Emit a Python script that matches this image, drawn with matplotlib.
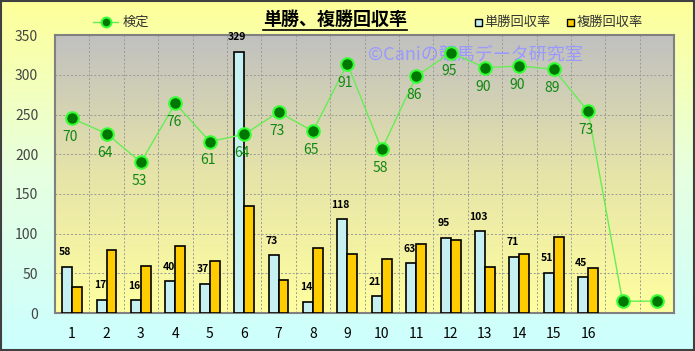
import matplotlib

matplotlib.use("Agg")

import matplotlib.pyplot as plt
import numpy as np
from matplotlib.colors import LinearSegmentedColormap
from matplotlib.lines import Line2D
from matplotlib.patches import Rectangle

plt.rcParams["font.family"] = ["Noto Sans CJK JP", "DejaVu Sans"]

categories = [str(i) for i in range(1, 17)] + ["", ""]
win_return = [58, 17, 16, 40, 37, 329, 73, 14, 118, 21, 63, 95, 103, 71, 51, 45]
place_return = [33, 79, 59, 85, 65, 135, 42, 82, 74, 68, 87, 92, 58, 75, 96, 57]
test_pos = [245, 226, 190, 264, 216, 225, 253, 229, 314, 206, 298, 328, 309, 311, 307, 254, 15, 15]
test_labels = ["70", "64", "53", "76", "61", "64", "73", "65", "91", "58", "86", "95", "90", "90", "89", "73", "", ""]

fig = plt.figure(figsize=(6.95, 3.51), dpi=100)

# figure background gradient (yellow top -> light cyan bottom)
bg = fig.add_axes([0, 0, 1, 1], zorder=-10)
bg_cmap = LinearSegmentedColormap.from_list("bg", ["#CCFFFF", "#E6FFE0", "#FFFF99"])
bg.imshow(np.linspace(0, 1, 256).reshape(-1, 1), aspect="auto", cmap=bg_cmap,
          origin="lower", extent=[0, 1, 0, 1])
bg.add_patch(Rectangle((0.001, 0.002), 0.997, 0.995, fill=False, edgecolor="#404040", lw=1.5,
                       transform=bg.transAxes))
bg.axis("off")

ax = fig.add_axes([0.079, 0.108, 0.891, 0.792])
x = np.arange(1, len(categories) + 1)
nx = len(win_return)

plot_cmap = LinearSegmentedColormap.from_list("plot", ["#FFFFA0", "#E6E4A8", "#C0C0C0"])
ax.imshow(np.linspace(0, 1, 256).reshape(-1, 1), aspect="auto", cmap=plot_cmap,
          origin="lower", extent=[0.5, 18.5, 0, 350], zorder=0)

w = 0.29
ax.bar(x[:nx] - w / 2, win_return, w, color="#C6F0F2", edgecolor="black", lw=1.2, zorder=3,
       label="単勝回収率")
ax.bar(x[:nx] + w / 2, place_return, w, color="#FFCC00", edgecolor="black", lw=1.2, zorder=3,
       label="複勝回収率")
for xi, v in zip(x[:nx], win_return):
    ax.text(xi - w / 2 - 0.05, v + 12, str(v), ha="center", va="bottom", fontsize=7.5,
            fontweight="bold", color="black", zorder=5)

# watermark sits under the line markers
ax.text(0.506, 0.931, "©Caniの競馬データ研究室", transform=ax.transAxes, fontsize=13,
        color="#9999FF", ha="left", va="center", zorder=3.5)

ax.plot(x, test_pos, color="#66EE55", lw=1, marker="o", ms=9, mfc="#007700", mec="#33FF33",
        mew=1.5, zorder=4)
for xi, v, lab in zip(x, test_pos, test_labels):
    ax.text(xi - 0.05, v - 15, lab, ha="center", va="top", fontsize=10, color="#118811", zorder=5)

ax.set_xlim(0.5, 18.5)
ax.set_ylim(0, 350)
ax.set_yticks(range(0, 351, 50))
ax.set_xticks(x)
ax.set_xticklabels(categories, fontsize=10)
ax.tick_params(axis="y", labelsize=10, length=0, pad=12, colors="#444444")
ax.tick_params(axis="x", length=0, pad=10)
ax.set_xticks(np.arange(1.5, 18.5, 1), minor=True)
ax.tick_params(axis="x", which="minor", length=0)
ax.grid(axis="y", which="major", color="#999999", ls=(0, (2, 2)), lw=0.7, zorder=1)
ax.grid(axis="x", which="minor", color="#999999", ls=(0, (2, 2)), lw=0.7, zorder=1)
ax.set_axisbelow(True)
for s in ax.spines.values():
    s.set_color("#808080")
    s.set_linewidth(1.5)

fig.text(0.482, 0.945, "単勝、複勝回収率", ha="center", va="center", fontsize=13,
         fontweight="bold")
fig.add_artist(Line2D([0.379, 0.586], [0.915, 0.915], color="black", lw=1.2))

fig.add_artist(Line2D([0.134, 0.170], [0.937, 0.937], color="#66EE55", lw=1))
fig.add_artist(Line2D([0.152], [0.937], marker="o", ms=7, mfc="#007700", mec="#33FF33", mew=1.5))
fig.text(0.176, 0.937, "検定", fontsize=9.5, va="center", color="#333333")

fig.add_artist(Rectangle((0.683, 0.925), 0.01, 0.02, facecolor="#C6F0F2", edgecolor="black", lw=1))
fig.text(0.697, 0.937, "単勝回収率", fontsize=9.5, va="center", color="#333333")
fig.add_artist(Rectangle((0.816, 0.925), 0.01, 0.02, facecolor="#FFCC00", edgecolor="black", lw=1))
fig.text(0.830, 0.937, "複勝回収率", fontsize=9.5, va="center", color="#333333")

fig.savefig("out.png", dpi=100)
